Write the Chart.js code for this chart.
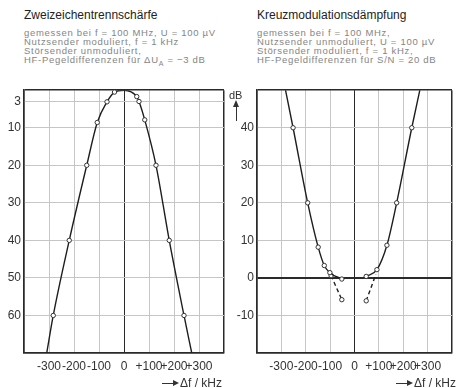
<!DOCTYPE html>
<html>
<head>
<meta charset="utf-8">
<script src="https://cdn.jsdelivr.net/npm/chart.js@4"></script>
<style>
  html, body { margin: 0; padding: 0; background: #fff; overflow: hidden; }
  body { width: 456px; height: 388px; position: relative; font-family: "Liberation Sans", Arial, sans-serif; }
  canvas { position: absolute; top: 80px; }
  .title { position: absolute; top: 8px; font-size: 12px; line-height: 14px; color: #222; letter-spacing: 0; }
  .sub { position: absolute; top: 28px; font-size: 9.5px; line-height: 9px; color: #858585; letter-spacing: 0.7px; white-space: nowrap; }
  .xlab { position: absolute; top: 376px; font-size: 12px; line-height: 14px; color: #333; white-space: nowrap; }
  .arrR { display: inline-block; width: 12px; height: 1px; background: #333; vertical-align: middle; position: relative; margin-right: 6px; }
  .arrR:after { content: ""; position: absolute; right: -5px; top: -3px; border-left: 6px solid #333; border-top: 3.5px solid transparent; border-bottom: 3.5px solid transparent; }
  .db { position: absolute; left: 229px; top: 89px; font-size: 11px; color: #333; }
  .arrU { position: absolute; left: 236px; top: 106px; width: 1px; height: 15px; background: #333; }
  .arrU:after { content: ""; position: absolute; left: -3px; top: -6px; border-bottom: 7px solid #333; border-left: 3.5px solid transparent; border-right: 3.5px solid transparent; }
</style>
</head>
<body>
<div class="title" style="left:24px">Zweizeichentrennschärfe</div>
<div class="sub" style="left:24px">gemessen bei f = 100 MHz, U = 100 µV<br>Nutzsender moduliert, f = 1 kHz<br>Störsender unmoduliert,<br>HF-Pegeldifferenzen für ΔU<sub style="font-size:7px;line-height:0">A</sub> = −3 dB</div>
<div class="title" style="left:257px">Kreuzmodulationsdämpfung</div>
<div class="sub" style="left:257px">gemessen bei f = 100 MHz,<br>Nutzsender unmoduliert, U = 100 µV<br>Störsender moduliert, f = 1 kHz,<br>HF-Pegeldifferenzen für S/N = 20 dB</div>

<canvas id="selChart" width="230" height="308" style="left:0"></canvas>
<canvas id="kmChart" width="230" height="308" style="left:228px"></canvas>

<div class="db">dB</div>
<div class="arrU"></div>
<div class="xlab" style="right:234px"><span class="arrR"></span>Δf / kHz</div>
<div class="xlab" style="right:0"><span class="arrR"></span>Δf / kHz</div>

<script>
// Zweizeichentrennschärfe (dB, y reversed)
var selFreq = [-309, -283, -219, -149, -107, -68, -38, 0, 51, 60, 83, 128, 181, 240, 271];
var selDb = [70, 60, 40, 20, 8.6, 3.1, 0.5, 0, 1.7, 3.0, 7.9, 20, 40, 60, 70];
var selMeasured = [0, 1, 1, 1, 1, 1, 1, 0, 1, 1, 1, 1, 1, 1, 0];
var selTicks = [0, 3, 10, 20, 30, 40, 50, 60, 70];

// Kreuzmodulationsdämpfung
var kmLeftFreq = [-283, -252, -192, -149, -124, -101, -52];
var kmLeftDb = [50, 40, 20, 8.2, 3.3, 1.4, -0.3];
var kmLeftMeasured = [0, 1, 1, 1, 1, 1, 1];
var kmRightFreq = [48, 92, 133, 173, 235, 268];
var kmRightDb = [0.4, 2.2, 8.7, 20, 40, 50];
var kmRightMeasured = [1, 1, 1, 1, 1, 0];
var kmDashLeftFreq = [-96, -52];
var kmDashLeftDb = [0.6, -5.8];
var kmDashRightFreq = [48, 88];
var kmDashRightDb = [-6.1, 1.0];
var kmTicks = [-20, -10, 0, 10, 20, 30, 40, 50];

var freqTicks = [-400, -300, -200, -100, 0, 100, 200, 300, 400];

var DARK = '#2a2a2a';
var GRID = '#c6c6c6';

function pts(xs, ys) {
    return xs.map(function(x, i) { return { x: x, y: ys[i] }; });
}

function series(xs, ys, measured, dashed) {
    return {
        data: pts(xs, ys),
        borderColor: '#1e1e1e',
        borderWidth: 1.4,
        borderDash: dashed ? [4, 3] : [],
        cubicInterpolationMode: dashed ? 'default' : 'monotone',
        tension: 0,
        pointRadius: measured ? measured.map(function(m) { return m ? 2.2 : 0; }) : 2.2,
        pointBorderWidth: 1,
        pointBorderColor: '#333',
        pointBackgroundColor: '#fff'
    };
}

function xScale() {
    return {
        type: 'linear',
        min: -400,
        max: 400,
        afterBuildTicks: function(s) { s.ticks = freqTicks.map(function(v) { return { value: v }; }); },
        afterFit: function(s) { s.height = 35; },
        border: { display: true, color: DARK, width: 1.5 },
        grid: {
            drawTicks: false,
            color: function(c) { return c.tick && (c.tick.value === 0 || Math.abs(c.tick.value) === 400) ? DARK : GRID; },
            lineWidth: function(c) { return c.tick && Math.abs(c.tick.value) === 400 ? 1.5 : 1; }
        },
        ticks: {
            autoSkip: false,
            maxRotation: 0,
            minRotation: 0,
            padding: 6,
            color: '#333',
            font: { family: 'Liberation Sans', size: 12 },
            callback: function(v) {
                if (Math.abs(v) === 400) return '';
                if (v > 0) return '+' + v;
                return '' + v;
            }
        }
    };
}

function yScale(min, max, ticks, reverse, width, boldZero) {
    return {
        type: 'linear',
        min: min,
        max: max,
        reverse: reverse,
        afterBuildTicks: function(s) { s.ticks = ticks.map(function(v) { return { value: v }; }); },
        afterFit: function(s) { s.width = width; },
        border: { display: true, color: DARK, width: 1.5 },
        grid: {
            drawTicks: false,
            color: function(c) {
                if (!c.tick) return GRID;
                var v = c.tick.value;
                return (v === min || v === max || (boldZero && v === 0)) ? DARK : GRID;
            },
            lineWidth: function(c) {
                if (!c.tick) return 1;
                var v = c.tick.value;
                if (boldZero && v === 0) return 2;
                return (v === min || v === max) ? 1.5 : 1;
            }
        },
        ticks: {
            padding: 3,
            color: '#333',
            font: { family: 'Liberation Sans', size: 12 },
            callback: function(v) { return (v === min || v === max) ? '' : '' + v; }
        }
    };
}

function baseOptions(y, rightPad) {
    return {
        responsive: false,
        animation: false,
        devicePixelRatio: 1,
        layout: { padding: { top: 9, right: rightPad, bottom: 0, left: 0 } },
        plugins: { legend: { display: false }, tooltip: { enabled: false } },
        scales: { x: xScale(), y: y }
    };
}

document.addEventListener('DOMContentLoaded', function() {
    new Chart(document.getElementById('selChart').getContext('2d'), {
        type: 'line',
        data: { datasets: [series(selFreq, selDb, selMeasured, false)] },
        options: baseOptions(yScale(0, 70, selTicks, true, 24, false), 6)
    });

    new Chart(document.getElementById('kmChart').getContext('2d'), {
        type: 'line',
        data: {
            datasets: [
                series(kmLeftFreq, kmLeftDb, kmLeftMeasured, false),
                series(kmRightFreq, kmRightDb, kmRightMeasured, false),
                series(kmDashLeftFreq, kmDashLeftDb, [1, 1], true),
                series(kmDashRightFreq, kmDashRightDb, [1, 0], true)
            ]
        },
        options: baseOptions(yScale(-20, 50, kmTicks, false, 29, true), 1)
    });
});
</script>
</body>
</html>
